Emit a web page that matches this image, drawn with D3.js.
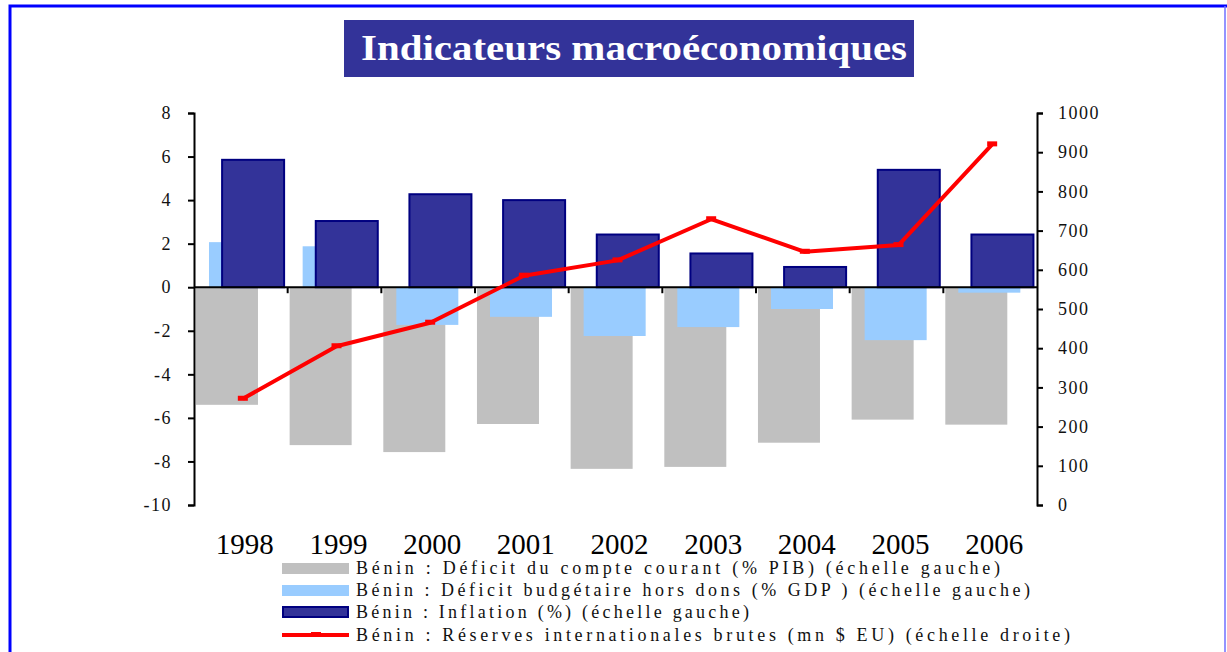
<!DOCTYPE html>
<html>
<head>
<meta charset="utf-8">
<script src="https://cdn.jsdelivr.net/npm/d3@7"></script>
<style>
  body { margin: 0; background: #fff; }
  svg text { font-family: "Liberation Serif", "Times New Roman", serif !important; }
</style>
</head>
<body>
<svg id="chart" width="1227" height="652"></svg>
<script>
// values
var years = ['1998', '1999', '2000', '2001', '2002', '2003', '2004', '2005', '2006']
var currentAccount = [-5.4, -7.25, -7.57, -6.28, -8.34, -8.25, -7.14, -6.08, -6.31]
var budgetDeficit = [2.07, 1.88, -1.73, -1.36, -2.24, -1.83, -1.0, -2.43, -0.25]
var inflation = [5.85, 3.04, 4.27, 4.0, 2.42, 1.55, 0.93, 5.39, 2.42]
var reserves = [271, 405, 465, 585, 624, 729, 646, 663, 920]

var leftTicks = [8, 6, 4, 2, 0, -2, -4, -6, -8, -10]
var rightTicks = [0, 100, 200, 300, 400, 500, 600, 700, 800, 900, 1000]

var legendLabels = [
  'Bénin :  Déficit du compte courant (% PIB) (échelle gauche)',
  'Bénin : Déficit budgétaire hors dons (% GDP ) (échelle gauche)',
  'Bénin : Inflation (%) (échelle gauche)',
  'Bénin : Réserves internationales brutes (mn $ EU) (échelle droite)'
]

var svg = d3.select('#chart')

// frame
svg.append('path').attr('d', 'M10,652 V6 H1227').attr('fill', 'none').attr('stroke', '#0000ff').attr('stroke-width', 3)
svg.append('line').attr('x1', 1225).attr('x2', 1225).attr('y1', 6).attr('y2', 652)
  .attr('stroke', '#6f6fff').attr('stroke-width', 1.5)

// title
svg.append('rect').attr('x', 344).attr('y', 20).attr('width', 570).attr('height', 57).attr('fill', '#333399')
svg.append('text').text('Indicateurs macroéconomiques')
  .attr('x', 361).attr('y', 60)
  .attr('fill', '#fff').attr('font-weight', 'bold').attr('font-size', 36)
  .attr('textLength', 546).attr('lengthAdjust', 'spacingAndGlyphs')

var x = d3.scaleBand().domain(years).range([194, 1037])
var yL = d3.scaleLinear().domain([-10, 8]).range([505, 113])
var yR = d3.scaleLinear().domain([0, 1000]).range([505, 113])
var bw = x.bandwidth()
var barW = bw * 0.662

function bars(values, off, fill, stroke) {
  svg.append('g').selectAll('rect').data(values).join('rect')
    .attr('x', (d, i) => x(years[i]) + bw * off)
    .attr('width', barW)
    .attr('y', d => yL(Math.max(0, d)))
    .attr('height', d => Math.abs(yL(d) - yL(0)))
    .attr('fill', fill)
    .attr('stroke', stroke || 'none')
    .attr('stroke-width', 2)
}

bars(currentAccount, 0.021, '#c0c0c0')
bars(budgetDeficit, 0.16, '#99ccff')
bars(inflation, 0.30, '#333399', '#000080')

// zero line + category ticks
svg.append('line').attr('x1', 194).attr('x2', 1037).attr('y1', yL(0)).attr('y2', yL(0))
  .attr('stroke', '#000').attr('stroke-width', 2)
svg.append('g').selectAll('line').data(years.slice(1)).join('line')
  .attr('x1', d => x(d)).attr('x2', d => x(d))
  .attr('y1', yL(0)).attr('y2', yL(0) + 6)
  .attr('stroke', '#000').attr('stroke-width', 2)

// axes
var leftAxis = svg.append('g').attr('transform', 'translate(194,0)')
  .call(d3.axisLeft(yL).tickValues(leftTicks).tickSize(6).tickPadding(16).tickFormat(d => d))
var rightAxis = svg.append('g').attr('transform', 'translate(1037,0)')
  .call(d3.axisRight(yR).tickValues(rightTicks).tickSize(6).tickPadding(15).tickFormat(d => d))
;[leftAxis, rightAxis].forEach(a => {
  a.attr('font-family', null)
  a.selectAll('path').attr('stroke', '#000').attr('stroke-width', 2)
  a.selectAll('line').attr('stroke', '#000').attr('stroke-width', 2)
  a.selectAll('text').attr('font-size', 18).attr('fill', '#111').attr('letter-spacing', 1.5)
})

// reserves line
var lineX = (d, i) => x(years[i]) + bw / 2 + 2
svg.append('path').datum(reserves)
  .attr('d', d3.line().x(lineX).y(d => yR(d)))
  .attr('fill', 'none').attr('stroke', '#ff0000').attr('stroke-width', 4).attr('stroke-linejoin', 'round')
svg.append('g').selectAll('rect').data(reserves).join('rect')
  .attr('x', (d, i) => lineX(d, i) - 5).attr('y', d => yR(d) - 3)
  .attr('width', 10).attr('height', 5).attr('fill', '#ff0000')

// year labels
svg.append('g').selectAll('text').data(years).join('text')
  .text(d => d)
  .attr('x', d => x(d) + bw / 2 + 4).attr('y', 554)
  .attr('text-anchor', 'middle').attr('font-size', 29).attr('fill', '#000')

// legend
var legendY = [568, 590, 612, 635]
var lg = svg.append('g')
lg.append('rect').attr('x', 282).attr('y', legendY[0] - 5).attr('width', 67).attr('height', 11).attr('fill', '#c0c0c0')
lg.append('rect').attr('x', 282).attr('y', legendY[1] - 5).attr('width', 67).attr('height', 11).attr('fill', '#99ccff')
lg.append('rect').attr('x', 283).attr('y', legendY[2] - 5).attr('width', 65).attr('height', 10)
  .attr('fill', '#333399').attr('stroke', '#000080').attr('stroke-width', 2)
lg.append('line').attr('x1', 282).attr('x2', 349).attr('y1', legendY[3]).attr('y2', legendY[3])
  .attr('stroke', '#ff0000').attr('stroke-width', 4)
lg.append('rect').attr('x', 311).attr('y', legendY[3] - 3).attr('width', 10).attr('height', 5).attr('fill', '#ff0000')

var legendEnd = [1000, 1030, 749, 1070]
lg.selectAll('text').data(legendLabels).join('text')
  .text(d => d)
  .attr('x', 356).attr('y', (d, i) => legendY[i] + 6)
  .attr('font-size', 18).attr('fill', '#111')
  .attr('textLength', (d, i) => legendEnd[i] - 356)
  .attr('lengthAdjust', 'spacing')
</script>
</body>
</html>
